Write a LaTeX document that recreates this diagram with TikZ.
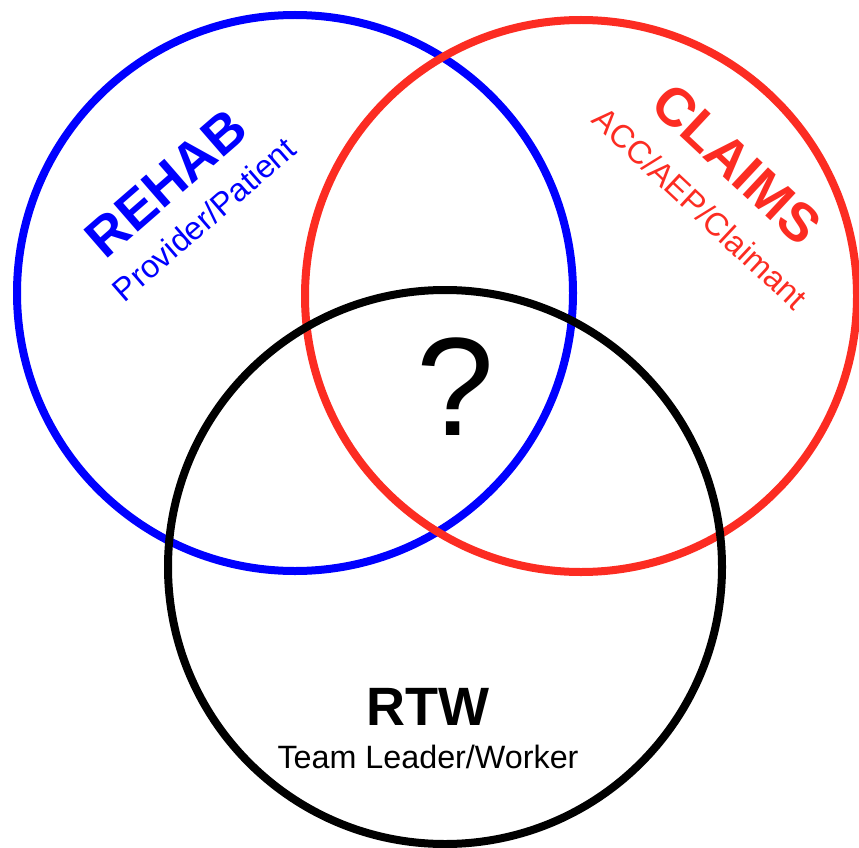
\documentclass[tikz,border=0pt]{standalone}
\usepackage{fontspec}
\setmainfont{Liberation Sans}
\definecolor{rehabblue}{RGB}{0,0,255}
\definecolor{claimsred}{RGB}{252,44,34}
\begin{document}
\begin{tikzpicture}[x=1pt,y=-1pt,
  ring/.style={line width=8pt},
  title/.style={font=\fontsize{54}{54}\selectfont\bfseries, inner sep=0pt},
  sub/.style={font=\fontsize{32.3}{32.3}\selectfont, inner sep=0pt}]
\useasboundingbox (0,0) rectangle (859,848);
\fill[white] (0,0) rectangle (859,848);
\draw[ring, rehabblue] (295,293) circle[radius=278];
\draw[ring, claimsred] (581,296) circle[radius=276];
\draw[ring, black] (445,567) circle[radius=277];
\node[title, text=rehabblue, rotate=41] (rehab) at (166,183) {REHAB};
\node[sub, text=rehabblue, rotate=41] (rehabsub) at (204,219) {Provider/Patient};
\node[title, text=claimsred, rotate=-43] (claims) at (737,164) {CLAIMS};
\node[sub, text=claimsred, rotate=-43] (claimssub) at (700,208) {ACC/AEP/Claimant};
\node[font=\fontsize{140}{140}\selectfont, inner sep=0pt] (q) at (455,387) {?};
\node[title] (rtw) at (428,707) {RTW};
\node[sub] (rtwsub) at (428,757) {Team Leader/Worker};
\end{tikzpicture}
\end{document}
